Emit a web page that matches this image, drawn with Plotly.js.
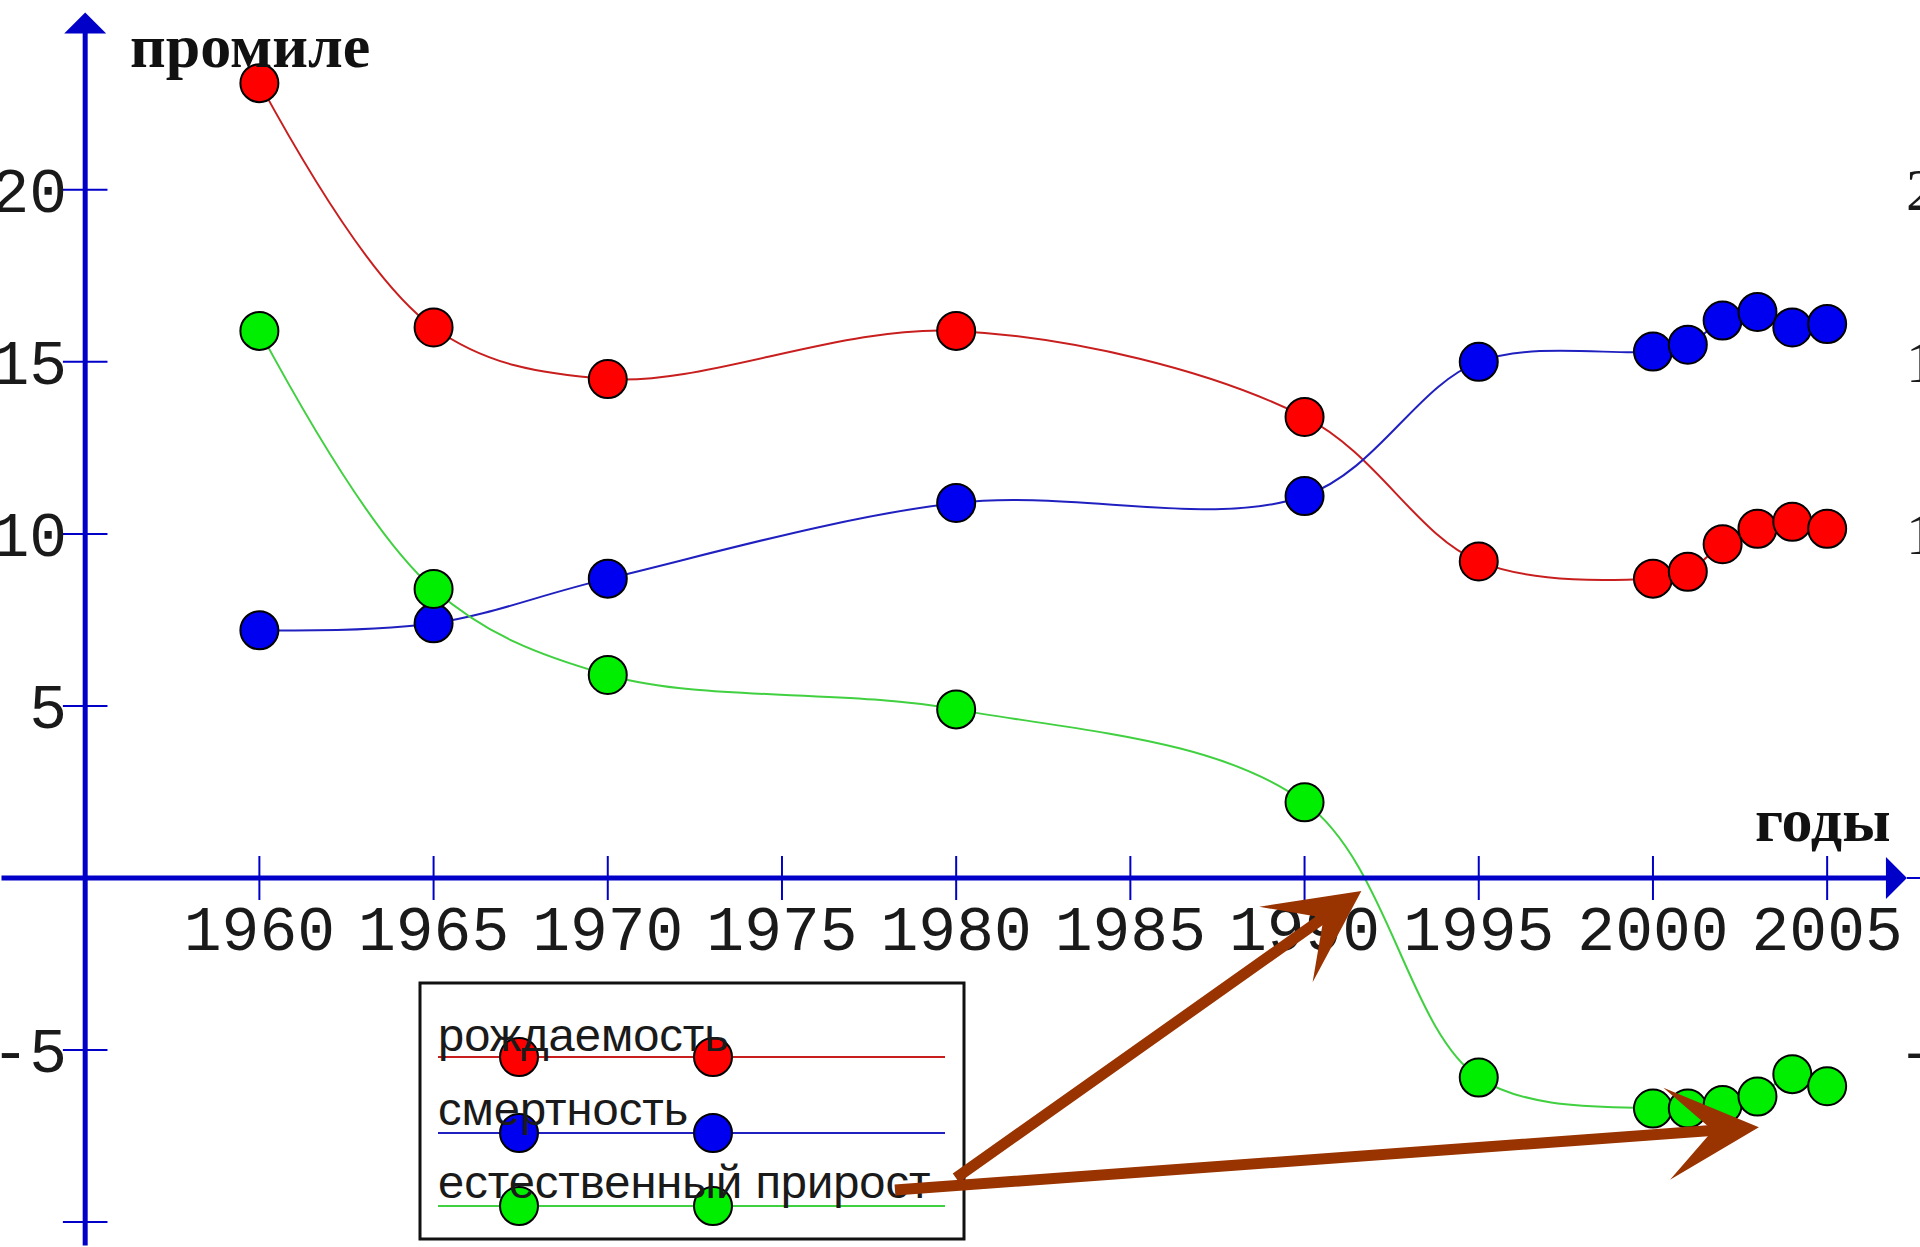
<!DOCTYPE html>
<html>
<head>
<meta charset="utf-8">
<script src="https://cdn.plot.ly/plotly-3.0.1.min.js"></script>
<style>
html,body{margin:0;padding:0;background:#fff;}
#chart{width:1920px;height:1247px;}
</style>
</head>
<body>
<div id="chart"></div>
<script>
// ---------- data ----------
const years = [1960, 1965, 1970, 1980, 1990, 1995, 2000, 2001, 2002, 2003, 2004, 2005];
const birthRate = [23.1, 16.0, 14.5, 15.9, 13.4, 9.2, 8.7, 8.9, 9.7, 10.15, 10.35, 10.15];
const deathRate = [7.2, 7.4, 8.7, 10.9, 11.1, 15.0, 15.3, 15.5, 16.2, 16.45, 16.0, 16.1];
const naturalGrowth = [15.9, 8.4, 5.9, 4.9, 2.2, -5.8, -6.7, -6.7, -6.6, -6.35, -5.7, -6.05];

const seriesNames = ['рождаемость', 'смертность', 'естественный прирост'];
const xTickVals = [1960, 1965, 1970, 1975, 1980, 1985, 1990, 1995, 2000, 2005];
const xTickText = ['1960', '1965', '1970', '1975', '1980', '1985', '1990', '1995', '2000', '2005'];
const yTickVals = [-10, -5, 5, 10, 15, 20];
const yTickText = ['', '-5', '5', '10', '15', '20'];
const rightTickVals = [20, 15, 10, -5];
const rightTickText = ['20', '15', '10', '-5'];
const yAxisLabel = 'промиле';
const xAxisLabel = 'годы';

// ---------- styling / geometry ----------
const W = 1920, H = 1247;
const X0 = 1952.555, X1 = 2007.665;   // visible year range
const Y0 = -10.724, Y1 = 25.516;      // visible value range
const AXIS_X = 1955;                  // vertical axis crosses here
const AXIS_TOP = 25.15, AXIS_RIGHT = 2007.29;
const axisColor = '#0000C8';
const markerColors = ['#FF0000', '#0000F0', '#00EE00'];
const lineColors = ['#C81E1E', '#2020C0', '#40D040'];
const tickFont = {family: 'Liberation Mono, monospace', size: 63, color: '#1a1a1a'};
const px = v => v / W;
const py = v => 1 - v / H;

// callout arrows: [tipX, tipY, tailX, tailY] in data units
const calloutArrows = [
  [1991.63, -0.38, 1979.95, -8.75],
  [2003.04, -7.24, 1978.2, -9.07]
];

const seriesValues = [birthRate, deathRate, naturalGrowth];

const traces = seriesValues.map((vals, i) => ({
  type: 'scatter',
  mode: 'lines+markers',
  x: years,
  y: vals,
  name: seriesNames[i],
  cliponaxis: false,
  line: {shape: 'spline', color: lineColors[i], width: 2},
  marker: {size: 38, color: markerColors[i], line: {color: '#000', width: 2}},
  showlegend: false,
  hoverinfo: 'skip'
}));

const shapes = [];
// tick marks crossing the axes
xTickVals.forEach(v => shapes.push({type: 'line', xref: 'x', yref: 'y', x0: v, x1: v, y0: -0.64, y1: 0.64,
  line: {color: axisColor, width: 2}, layer: 'below'}));
yTickVals.forEach(v => shapes.push({type: 'line', xref: 'x', yref: 'y', x0: AXIS_X - 0.64, x1: AXIS_X + 0.64, y0: v, y1: v,
  line: {color: axisColor, width: 2}, layer: 'below'}));
// small tail after x arrow tip
shapes.push({type: 'line', xref: 'x', yref: 'y', x0: AXIS_RIGHT, x1: X1, y0: 0, y1: 0, line: {color: axisColor, width: 2}});

// legend box
const legBox = {x0: 420, x1: 964, y0: 983, y1: 1239};
shapes.push({type: 'rect', xref: 'paper', yref: 'paper', x0: px(legBox.x0), x1: px(legBox.x1),
  y0: py(legBox.y1), y1: py(legBox.y0), line: {color: '#111', width: 3}, fillcolor: 'rgba(255,255,255,0)'});
const legLineY = [1057, 1133, 1206];
const legTextY = [1034, 1108, 1181];
const legMarkerX = [519, 713];

const annotations = [];
seriesNames.forEach((name, i) => {
  shapes.push({type: 'line', xref: 'paper', yref: 'paper', x0: px(438), x1: px(945), y0: py(legLineY[i]), y1: py(legLineY[i]),
    line: {color: lineColors[i], width: 2}});
  legMarkerX.forEach(mx => shapes.push({type: 'circle', xref: 'paper', yref: 'paper', xsizemode: 'pixel', ysizemode: 'pixel',
    xanchor: px(mx), yanchor: py(legLineY[i]), x0: -19, x1: 19, y0: -19, y1: 19,
    fillcolor: markerColors[i], line: {color: '#000', width: 2}}));
  annotations.push({xref: 'paper', yref: 'paper', x: px(436), y: py(legTextY[i]), xanchor: 'left', yanchor: 'middle',
    text: name, showarrow: false, font: {family: 'Liberation Sans, Arial, sans-serif', size: 47, color: '#1a1a1a'}});
});

// axis arrows
annotations.push({xref: 'x', yref: 'y', axref: 'x', ayref: 'y', x: AXIS_X, y: AXIS_TOP, ax: AXIS_X, ay: Y0,
  text: '', showarrow: true, arrowhead: 1, arrowsize: 1.4, arrowwidth: 5, arrowcolor: axisColor, standoff: 0});
annotations.push({xref: 'x', yref: 'y', axref: 'x', ayref: 'y', x: AXIS_RIGHT, y: 0, ax: X0, ay: 0,
  text: '', showarrow: true, arrowhead: 1, arrowsize: 1.4, arrowwidth: 5, arrowcolor: axisColor, standoff: 0});

// axis titles
annotations.push({xref: 'paper', yref: 'paper', x: px(128), y: py(46), xanchor: 'left', yanchor: 'middle',
  text: '<b>' + yAxisLabel + '</b>', showarrow: false, font: {family: 'Liberation Serif, serif', size: 62, color: '#111'}});
annotations.push({xref: 'paper', yref: 'paper', x: px(1893), y: py(820), xanchor: 'right', yanchor: 'middle',
  text: '<b>' + xAxisLabel + '</b>', showarrow: false, font: {family: 'Liberation Serif, serif', size: 62, color: '#111'}});

// right-side (cut off) tick labels
rightTickVals.forEach((v, i) => annotations.push({xref: 'paper', yref: 'y', x: px(1904), y: v, xanchor: 'left', yanchor: 'middle',
  text: rightTickText[i], showarrow: false, font: {family: 'Liberation Serif, serif', size: 60, color: '#1a1a1a'}}));

// callouts
calloutArrows.forEach(a => annotations.push({xref: 'x', yref: 'y', axref: 'x', ayref: 'y', x: a[0], y: a[1], ax: a[2], ay: a[3],
  text: '', showarrow: true, arrowhead: 3, arrowsize: 1.4, arrowwidth: 11, arrowcolor: '#993300', standoff: 0}));

const layout = {
  width: W, height: H,
  margin: {l: 0, r: 0, t: 0, b: 0, pad: 0},
  paper_bgcolor: '#fff', plot_bgcolor: '#fff',
  showlegend: false,
  xaxis: {range: [X0, X1], anchor: 'free', position: (0 - Y0) / (Y1 - Y0),
    showgrid: false, zeroline: false, showline: false, ticks: '',
    tickmode: 'array', tickvals: xTickVals, ticktext: xTickText, tickfont: tickFont,
    ticklabelstandoff: 8, fixedrange: true},
  yaxis: {range: [Y0, Y1], anchor: 'free', position: (AXIS_X - X0) / (X1 - X0),
    showgrid: false, zeroline: false, showline: false, ticks: '',
    tickmode: 'array', tickvals: yTickVals, ticktext: yTickText, tickfont: tickFont,
    ticklabelstandoff: 18, fixedrange: true},
  shapes: shapes,
  annotations: annotations
};

Plotly.newPlot('chart', traces, layout, {displayModeBar: false, responsive: false});
</script>
</body>
</html>
